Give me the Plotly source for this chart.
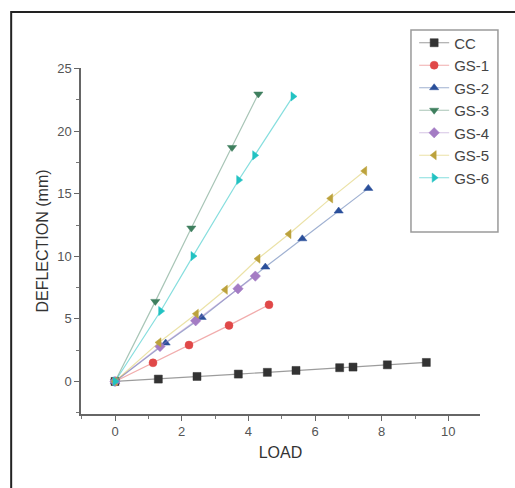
import plotly.graph_objects as go

# Load vs. deflection readings for the control specimen and GS series
cc_load = [0, 1.3, 2.46, 3.7, 4.57, 5.43, 6.74, 7.14, 8.17, 9.34]
cc_defl = [0, 0.19, 0.4, 0.59, 0.73, 0.88, 1.1, 1.15, 1.33, 1.52]

gs1_load = [0, 1.14, 2.22, 3.42, 4.62]
gs1_defl = [0, 1.49, 2.91, 4.48, 6.13]

gs2_load = [0, 1.52, 2.6, 4.51, 5.62, 6.71, 7.6]
gs2_defl = [0, 3.07, 5.12, 9.14, 11.4, 13.62, 15.43]

gs3_load = [0, 1.21, 2.29, 3.51, 4.3]
gs3_defl = [0, 6.4, 12.26, 18.7, 22.97]

gs4_load = [0, 1.35, 2.42, 3.69, 4.21]
gs4_defl = [0, 2.8, 4.85, 7.41, 8.42]

gs5_load = [0, 1.32, 2.44, 3.31, 4.29, 5.22, 6.47, 7.49]
gs5_defl = [0, 3.12, 5.41, 7.33, 9.81, 11.78, 14.63, 16.82]

gs6_load = [0, 1.37, 2.34, 3.71, 4.19, 5.34]
gs6_defl = [0, 5.63, 10.02, 16.1, 18.07, 22.78]

series_names = ["CC", "GS-1", "GS-2", "GS-3", "GS-4", "GS-5", "GS-6"]
series_loads = [cc_load, gs1_load, gs2_load, gs3_load, gs4_load, gs5_load, gs6_load]
series_defls = [cc_defl, gs1_defl, gs2_defl, gs3_defl, gs4_defl, gs5_defl, gs6_defl]

x_ticks = [0, 2, 4, 6, 8, 10]
y_ticks = [0, 5, 10, 15, 20, 25]

colors = ["#333333", "#E04848", "#2A4F9A", "#3E7F5E", "#A47CC4", "#BCA23C", "#22C2C2"]
line_colors = ["rgba(90,90,90,0.6)", "rgba(224,72,72,0.45)", "rgba(42,79,154,0.45)",
               "rgba(62,127,94,0.45)", "rgba(164,124,196,0.45)", "rgba(210,190,60,0.45)",
               "rgba(34,194,194,0.55)"]
symbols = ["square", "circle", "triangle-up", "triangle-down", "diamond",
           "triangle-left", "triangle-right"]

fig = go.Figure()
for name, xs, ys, c, lc, sym in zip(series_names, series_loads, series_defls,
                                    colors, line_colors, symbols):
    fig.add_trace(go.Scatter(
        x=xs, y=ys, name=name, mode="lines+markers",
        line=dict(color=lc, width=1.2),
        marker=dict(symbol=sym, size=8, color=c, line=dict(color=c, width=0.5)),
    ))

axis_font = dict(family="Liberation Sans, Arial, sans-serif", size=13, color="#555555")
title_font = dict(family="Liberation Sans, Arial, sans-serif", size=16, color="#333333")

fig.update_xaxes(
    range=[-1.02, 10.95], tickvals=x_ticks, ticktext=[str(v) for v in x_ticks],
    showline=True, linecolor="#666666", linewidth=1.5, mirror=False,
    ticks="outside", ticklen=5, tickwidth=1.2, tickcolor="#666666",
    minor=dict(dtick=1, tick0=0, ticks="outside", ticklen=3, tickcolor="#777777"),
    showgrid=False, zeroline=False, tickfont=axis_font,
    title=dict(text="LOAD", font=title_font, standoff=8),
)
fig.update_yaxes(
    range=[-2.6, 25.05], tickvals=y_ticks, ticktext=[str(v) for v in y_ticks],
    showline=True, linecolor="#666666", linewidth=1.5, mirror=False,
    ticks="outside", ticklen=5, tickwidth=1.2, tickcolor="#666666",
    minor=dict(dtick=2.5, tick0=0, ticks="outside", ticklen=3, tickcolor="#777777"),
    showgrid=False, zeroline=False, tickfont=axis_font,
    title=dict(text="DEFLECTION (mm)", font=title_font, standoff=5),
)

# Legend frame and outer border
fig.add_shape(type="rect", xref="paper", yref="paper",
              x0=0.827, x1=1.045, y0=0.526, y1=1.110,
              line=dict(color="#9a9a9a", width=1.5), fillcolor="rgba(0,0,0,0)")
fig.add_shape(type="rect", xref="paper", yref="paper",
              x0=-0.175, x1=1.3, y0=-0.4, y1=1.162,
              line=dict(color="#222222", width=2), fillcolor="rgba(0,0,0,0)")

fig.update_layout(
    width=515, height=488,
    margin=dict(l=81, r=35, t=68, b=74),
    paper_bgcolor="white", plot_bgcolor="white",
    showlegend=True,
    legend=dict(x=0.835, y=1.12, xanchor="left", yanchor="top",
                bgcolor="rgba(0,0,0,0)", borderwidth=0,
                font=dict(family="Liberation Sans, Arial, sans-serif", size=15, color="#444444"),
                itemwidth=30, tracegroupgap=0),
)

fig.write_html("out.html")
